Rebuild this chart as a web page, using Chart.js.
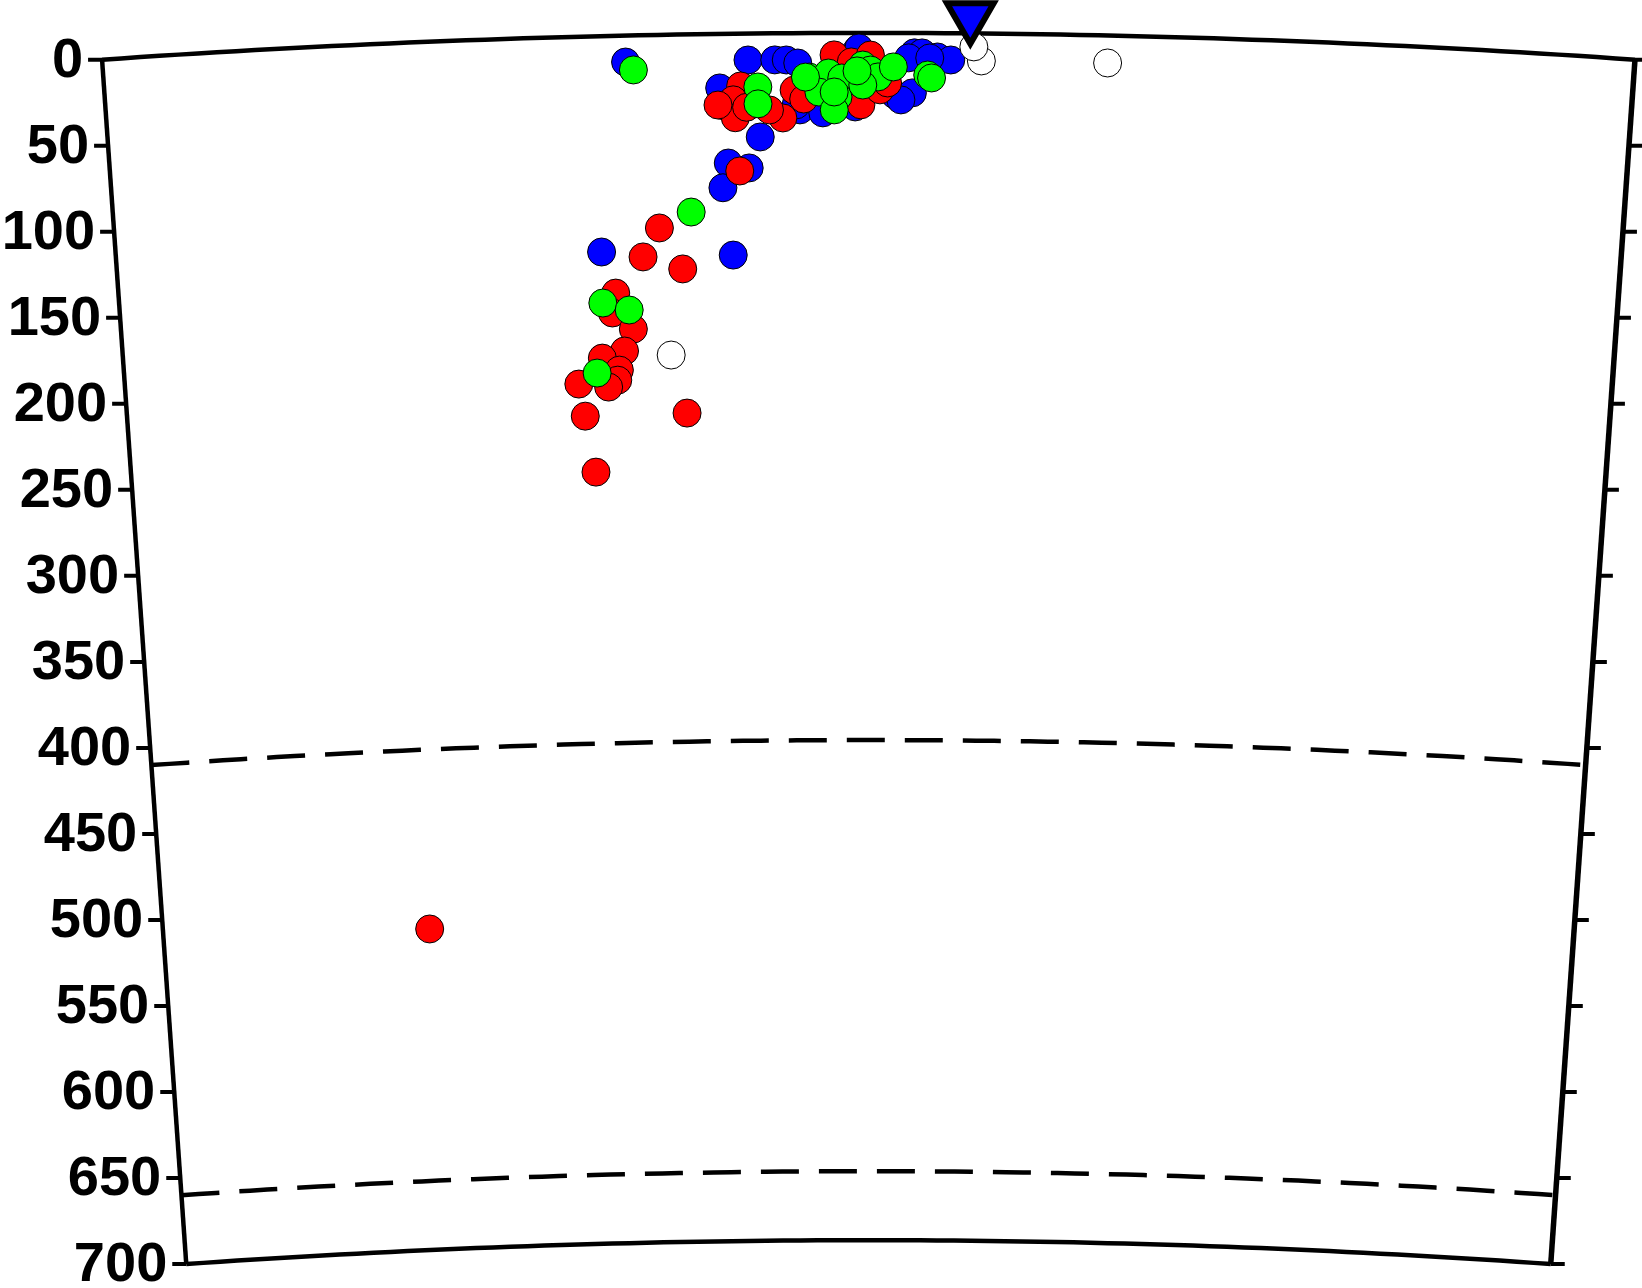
<!DOCTYPE html>
<html>
<head>
<meta charset="utf-8">
<script src="https://cdn.jsdelivr.net/npm/chart.js@4/dist/chart.umd.min.js"></script>
<style>
  html, body { margin: 0; padding: 0; background: #fff; }
  canvas { display: block; }
</style>
</head>
<body>
<canvas id="section" width="1642" height="1288"></canvas>
<script>
// distance along the profile (deg) and depth (km) of the events, by group
var blueDist  = [2.73, 3.37, 3.51, 3.57, 3.63, 3.26, 3.22, 3.64, 3.43, 3.26, 3.37, 3.23, 2.58, 3.28,
                 3.94, 3.76, 3.93, 4.14, 4.23, 4.17, 4.24, 4.28, 4.36, 4.43, 4.21, 4.32, 3.95, 3.62];
var blueDepth = [15.3, 15.3, 15.4, 15.5, 17.3, 33.7, 31.3, 44.5, 60, 74.9, 77.9, 89.2, 125.1, 128.3,
                 9.9, 46.3, 42.9, 36, 34.7, 38.8, 11.5, 11.5, 13.8, 15.5, 14.4, 14.4, 8.7, 41.6];

var redDist  = [3.33, 3.24, 3.29, 3.30, 3.36, 3.55, 3.48, 3.61, 3.66, 3.32, 2.89, 2.80, 3.01, 2.65,
                2.63, 2.74, 2.69, 2.57, 2.66, 2.65, 2.60, 2.44, 2.47, 3.02, 2.52, 1.51, 3.82, 3.91,
                4.01, 3.96, 4.06, 4.10, 3.21];
var redDepth = [30.3, 41.7, 38.3, 48.7, 42.7, 49.1, 44.4, 33, 38.2, 79.6, 111.9, 128.5, 135.9, 149.1,
                160.6, 170.2, 182.8, 186.6, 193.8, 199.6, 203.5, 201.3, 220, 219.5, 252.6, 514, 12.7, 16.8,
                12.8, 41.7, 33, 29, 41.2];

var greenDist  = [2.77, 3.42, 3.42, 3.06, 2.58, 2.72, 2.54, 3.69, 3.79, 3.86, 3.74, 3.84, 3.82, 3.97,
                  4.01, 4.05, 4.13, 3.97, 4.31, 4.33, 3.67, 3.82, 3.94];
var greenDepth = [20, 31, 40.8, 103, 154.7, 159.1, 195.2, 25.5, 23.2, 26.1, 34.2, 37.1, 44.6, 18.6,
                  21.5, 25.5, 19.7, 30.2, 24.3, 26, 25.5, 34.2, 22];

var whiteDist  = [4.59, 4.55, 5.25, 2.94];
var whiteDepth = [15.9, 7.8, 15.9, 185.7];

// station (negative depth = above the surface line)
var stationDist  = [4.53];
var stationDepth = [-9.6];

// frame of the section
var profileStart = 0;
var profileEnd = 8;
var bottomDepth = 700;
var discontinuities = [410, 660];
var depthTicks = [0, 50, 100, 150, 200, 250, 300, 350, 400, 450, 500, 550, 600, 650, 700];

var EARTH_R = 6371;
var MID = (profileStart + profileEnd) / 2;

// polar position: distance/depth -> km from the Earth's centre
function toXY(dist, depth) {
  var a = (dist - MID) * Math.PI / 180;
  var r = EARTH_R - depth;
  return { x: r * Math.sin(a), y: r * Math.cos(a) };
}

function points(dists, depths) {
  return dists.map(function (d, i) { return toXY(d, depths[i]); });
}

function arc(depth) {
  var pts = [];
  for (var a = profileStart; a <= profileEnd + 1e-9; a += 0.1) pts.push(toXY(a, depth));
  return pts;
}

function events(label, data, fill, order) {
  return {
    label: label, data: data, order: order, clip: false,
    pointRadius: 14, pointHoverRadius: 14,
    backgroundColor: fill, borderColor: '#000', borderWidth: 1
  };
}

function frameLine(data, width, dash) {
  return {
    type: 'line', data: data, showLine: true, order: 10, clip: false,
    borderColor: '#000', borderWidth: width, borderDash: dash || [],
    pointRadius: 0, tension: 0, fill: false
  };
}

var datasets = [
  {
    label: 'station', data: points(stationDist, stationDepth), order: 1, clip: false,
    pointStyle: 'triangle', rotation: 180, pointRadius: 27, pointHoverRadius: 27,
    backgroundColor: '#0000FF', borderColor: '#000', borderWidth: 6
  },
  events('white', points(whiteDist, whiteDepth), '#FFFFFF', 2),
  events('green', points(greenDist, greenDepth), '#00FF00', 3),
  events('red', points(redDist, redDepth), '#FF0000', 4),
  events('blue', points(blueDist, blueDepth), '#0000FF', 5),
  frameLine(arc(0), 4.5),
  frameLine(arc(bottomDepth), 4.5),
  frameLine([toXY(profileStart, 0), toXY(profileStart, bottomDepth)], 4.5),
  frameLine([toXY(profileEnd, 0), toXY(profileEnd, bottomDepth)], 5.5)
];
discontinuities.forEach(function (d) { datasets.push(frameLine(arc(d), 4.5, [38, 20])); });

// depth ticks and labels along both radial edges
var depthAxis = {
  id: 'depthAxis',
  afterDatasetsDraw: function (chart) {
    var ctx = chart.ctx, xs = chart.scales.x, ys = chart.scales.y;
    ctx.save();
    ctx.strokeStyle = '#000';
    ctx.lineWidth = 4;
    ctx.fillStyle = '#000';
    ctx.font = 'bold 56px "Liberation Sans", Arial, sans-serif';
    ctx.textAlign = 'right';
    ctx.textBaseline = 'middle';
    depthTicks.forEach(function (d) {
      var l = toXY(profileStart, d), r = toXY(profileEnd, d);
      var lx = xs.getPixelForValue(l.x), ly = ys.getPixelForValue(l.y);
      var rx = xs.getPixelForValue(r.x), ry = ys.getPixelForValue(r.y);
      ctx.beginPath();
      ctx.moveTo(lx - 14, ly); ctx.lineTo(lx, ly);
      ctx.moveTo(rx, ry); ctx.lineTo(rx + 14, ry);
      ctx.stroke();
      ctx.fillText(String(d), lx - 19, ly + 2);
    });
    ctx.restore();
  }
};

new Chart(document.getElementById('section'), {
  type: 'scatter',
  data: { datasets: datasets },
  options: {
    responsive: false,
    devicePixelRatio: 1,
    animation: false,
    layout: { padding: 0, autoPadding: false },
    plugins: { legend: { display: false }, tooltip: { enabled: false } },
    scales: {
      x: { type: 'linear', display: false, min: -503.6, max: 448.5 },
      y: { type: 'linear', display: false, min: 5643.3, max: 6390.1 }
    }
  },
  plugins: [depthAxis]
});
</script>
</body>
</html>
